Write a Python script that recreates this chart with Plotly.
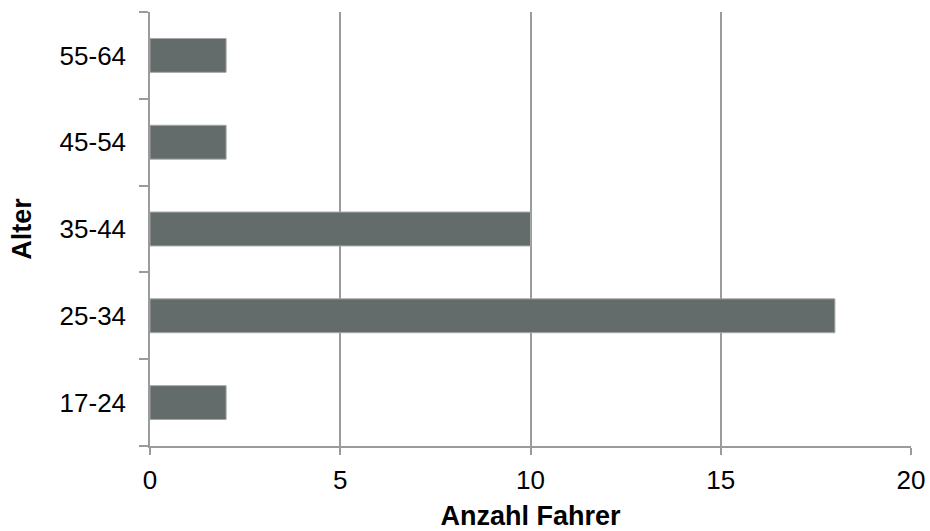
import plotly.graph_objects as go

# Anzahl Fahrer je Altersgruppe
age_groups = ["17-24", "25-34", "35-44", "45-54", "55-64"]
drivers = [2, 18, 10, 2, 2]
x_ticks = [0, 5, 10, 15, 20]

GRID = "#9B9B9B"
BAR = "#636B6B"
FONT = "Liberation Sans, Arial, sans-serif"

fig = go.Figure(
    go.Bar(
        x=drivers,
        y=age_groups,
        orientation="h",
        marker=dict(color=BAR, line=dict(color="#A3A7A7", width=1)),
        width=0.39,
    )
)

fig.update_layout(
    width=930,
    height=531,
    margin=dict(l=150, r=19, t=12, b=85),
    paper_bgcolor="white",
    plot_bgcolor="white",
    showlegend=False,
    font=dict(family=FONT, size=26, color="black"),
)

fig.update_xaxes(
    range=[0, 20],
    tickvals=x_ticks,
    ticktext=[str(v) for v in x_ticks],
    automargin=False,
    showgrid=True,
    gridcolor=GRID,
    gridwidth=1.5,
    zeroline=False,
    showline=True,
    linecolor=GRID,
    linewidth=1.5,
    ticks="outside",
    ticklen=7,
    tickwidth=1.5,
    tickcolor=GRID,
    ticklabelstandoff=3,
    tickfont=dict(size=26),
    title=dict(text="<b>Anzahl Fahrer</b>", font=dict(size=27), standoff=30),
)

fig.update_yaxes(
    type="category",
    categoryorder="array",
    categoryarray=age_groups,
    range=[-0.5, 4.5],
    automargin=False,
    showgrid=False,
    zeroline=False,
    showline=True,
    linecolor=GRID,
    linewidth=1.5,
    ticks="outside",
    tickson="boundaries",
    ticklen=9,
    tickwidth=1.5,
    tickcolor=GRID,
    ticklabelstandoff=17,
    tickfont=dict(size=26),
    title=dict(text="<b>Alter</b>", font=dict(size=27), standoff=20),
)

fig.write_html("out.html")
